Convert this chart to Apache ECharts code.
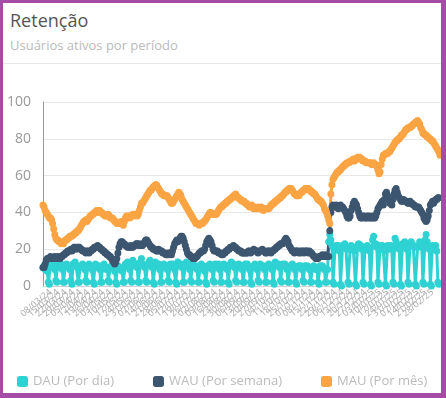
<!DOCTYPE html>
<html>
<head>
<meta charset="utf-8">
<script src="https://cdn.jsdelivr.net/npm/echarts@6/dist/echarts.min.js"></script>
<style>
  html, body { margin: 0; padding: 0; }
  body { width: 446px; height: 398px; background: #a64ca6; position: relative; overflow: hidden; font-family: 'Open Sans', sans-serif; }
  .card { position: absolute; left: 3px; top: 3px; width: 438px; height: 390px; background: #fff; overflow: hidden; }
  .card__title { position: absolute; left: 7px; top: 5px; font-size: 18px; color: #555; }
  .card__subtitle { position: absolute; left: 7px; top: 33px; font-size: 13px; color: #bbb; }
  .card__sep { position: absolute; left: 0; right: 0; top: 60px; height: 1px; background: #e8e8e8; }
  #chart { position: absolute; left: -3px; top: -3px; width: 446px; height: 398px; }
</style>
</head>
<body>
<div class="card">
  <div class="card__title">Retenção</div>
  <div class="card__subtitle">Usuários ativos por período</div>
  <div class="card__sep"></div>
  <div id="chart"></div>
</div>
<script>
// séries diárias
const dau = [
  10,11,9,10,8,2,1, 11,12,10,11,9,3,2, 12,11,10,12,9,2,2, 11,12,11,10,9,3,1,
  12,11,13,11,10,2,2, 11,10,12,11,9,3,2, 10,12,11,10,9,2,1, 12,11,10,11,9,2,2,
  11,12,10,9,10,3,2, 10,11,12,10,8,2,1, 11,10,9,10,8,2,2, 12,11,13,11,9,3,2,
  14,12,11,12,10,2,2, 13,15,12,11,10,3,2, 12,13,14,12,10,2,1, 13,12,11,12,9,2,2,
  11,12,10,11,9,3,2, 12,11,12,10,9,2,1, 13,12,11,12,10,2,2, 11,13,12,11,9,3,2,
  12,11,10,11,9,2,2, 10,12,11,10,8,2,1, 11,10,12,11,9,3,2, 12,11,10,12,9,2,2,
  11,12,11,10,9,2,1, 12,13,11,12,10,3,2, 11,12,10,11,9,2,2, 12,11,12,10,9,2,1,
  10,11,12,11,9,3,2, 12,11,10,11,9,2,2, 11,12,11,10,9,2,1, 13,12,11,12,10,3,2,
  12,11,12,11,9,2,2, 11,10,12,11,9,2,1, 10,11,10,11,9,3,2, 11,10,11,10,9,2,2,
  10,11,10,9,9,2,1, 11,10,11,10,9,2,2, 9,24,28,25,22,2,1, 21,22,20,22,19,1,0,
  22,21,23,21,20,2,1, 20,22,21,20,19,1,0, 22,23,21,22,20,2,1, 21,20,22,21,19,1,0,
  25,27,22,23,21,2,1, 22,21,22,20,19,1,0, 22,20,21,22,20,2,1, 26,24,22,21,20,1,0,
  23,22,24,22,20,2,1, 22,24,23,22,21,1,0, 21,22,24,23,21,2,1, 25,28,24,22,20,1,0,
  22,21,20,22,19,2,1
];

const wau = [
  10,10,12,14,15,15,15,16,15,15, 15,16,15,15,16,15,15,16,16,17,
  17,18,18,19,19,19,20,19,20,21, 21,20,21,21,21,20,20,19,19,19,
  18,19,19,18,19,19,20,20,21,21, 21,22,21,21,20,20,19,19,18,18,
  17,17,16,16,15,14,13,12,13,15, 18,21,23,24,24,23,23,22,22,21,
  21,21,22,21,21,22,22,23,23,22, 23,22,22,22,23,24,25,25,24,23,
  22,21,21,20,20,20,19,19,20,19, 19,19,18,18,18,17,17,18,17,18,
  17,19,21,23,24,25,24,25,26,27, 27,26,24,22,20,18,17,17,16,16,
  15,15,15,16,16,17,18,18,19,19, 19,20,22,24,25,26,25,24,22,20,
  19,19,19,19,18,18,18,17,17,18, 18,19,19,20,20,21,21,21,22,21,
  21,20,20,19,19,19,18,18,18,18, 18,18,19,19,18,19,19,20,19,19,
  19,18,19,19,19,20,19,19,18,18, 19,19,19,18,19,19,20,20,21,21,
  22,22,23,23,23,24,25,26,25,24, 22,21,20,19,19,18,19,19,19,18,
  19,18,19,19,18,19,19,19,18,19, 18,18,17,16,16,15,15,15,16,16,
  16,17,16,16,17,16,16,16,30,40, 43,44,43,43,44,43,42,43,44,43,
  43,42,41,40,38,37,37,38,41,43, 45,46,45,44,42,40,38,37,37,38,
  38,37,37,38,37,38,37,37,38,37, 37,38,40,42,43,44,45,46,44,47,
  50,51,49,47,45,45,44,47,50,52, 53,51,49,48,47,46,46,47,46,46,
  46,45,45,46,45,45,44,44,43,43, 43,43,42,41,40,39,37,36,35,36,
  38,41,44,45,46,45,46,47,47,48, 48
];

const mau = [
  44,43,41,40,39,38,37,37,36,34, 31,28,26,25,25,24,24,23,24,23,
  24,25,25,26,26,27,27,27,28,28, 29,29,30,30,31,32,33,34,35,35,
  36,35,36,37,38,38,39,39,40,40, 41,40,41,41,40,40,39,39,38,38,
  38,39,38,37,37,37,36,35,35,34, 34,34,34,35,34,33,35,37,38,37,
  38,37,38,38,39,38,39,39,38,39, 41,43,45,45,46,47,48,49,50,51,
  52,52,53,54,54,55,55,54,53,52, 51,50,50,49,49,49,49,48,47,46,
  45,45,46,47,48,49,50,51,50,49, 47,46,45,44,43,42,41,40,39,38,
  37,36,35,34,34,34,33,34,34,34, 35,35,36,37,38,39,40,40,39,39,
  39,39,39,40,41,42,43,43,44,44, 45,45,46,46,47,47,48,48,49,49,
  50,49,48,48,47,47,46,46,46,45, 45,44,44,43,43,44,43,42,43,42,
  42,43,42,42,43,42,41,42,42,42, 42,42,43,44,44,45,45,46,46,47,
  47,48,48,49,49,50,51,51,52,52, 53,53,53,52,51,50,50,49,49,49,
  50,51,51,52,52,53,53,53,53,52, 52,51,51,50,50,49,48,47,47,46,
  46,45,44,42,41,40,38,36,34,50, 55,58,59,60,61,62,62,63,63,64,
  65,65,66,66,67,67,67,68,68,68, 69,68,69,69,70,69,70,69,69,68,
  68,68,67,67,67,67,67,66,66,67, 66,66,65,63,61,62,66,69,71,71,
  72,72,72,73,73,74,75,76,77,78, 79,79,80,80,81,82,82,83,84,85,
  85,86,86,86,87,87,88,88,89,89, 90,89,88,86,85,83,83,82,82,81,
  81,80,80,79,79,78,77,76,75,74, 73,71
];

const seriesNames = ['DAU (Por dia)', 'WAU (Por semana)', 'MAU (Por mês)'];
const seriesColors = ['#2fd2d2', '#3d5670', '#fba443'];
const yTicks = [0, 20, 40, 60, 80, 100];

// um dia por ponto a partir desta data
const startDate = new Date(2024, 2, 1);
const categories = [];
for (let i = 0; i < mau.length; i++) {
  const d = new Date(startDate.getTime());
  d.setDate(d.getDate() + i);
  const dd = String(d.getDate()).padStart(2, '0');
  const mm = String(d.getMonth() + 1).padStart(2, '0');
  const yy = String(d.getFullYear()).slice(2);
  categories.push(`${dd}/${mm}/${yy}`);
}

const chart = echarts.init(document.getElementById('chart'));

function makeSeries(name, data, color) {
  return {
    name: name,
    type: 'line',
    data: data,
    symbol: 'circle',
    symbolSize: 7,
    showAllSymbol: true,
    lineStyle: { color: color, width: 3 },
    itemStyle: { color: color },
    emphasis: { disabled: true }
  };
}

chart.setOption({
  animation: false,
  textStyle: { fontFamily: 'Open Sans' },
  grid: { left: 43, right: 6, top: 102, bottom: 112 },
  legend: {
    left: 12,
    top: 370,
    itemGap: 39,
    itemWidth: 11,
    itemHeight: 11,
    icon: 'roundRect',
    textStyle: { color: '#bbb', fontSize: 13 },
    data: seriesNames
  },
  xAxis: {
    type: 'category',
    boundaryGap: false,
    data: categories,
    axisLine: { lineStyle: { color: '#d0d0d0' } },
    axisTick: { show: false },
    axisLabel: {
      interval: 6,
      rotate: 40,
      fontSize: 9,
      color: '#aaa',
      margin: 5
    }
  },
  yAxis: {
    type: 'value',
    min: yTicks[0],
    max: yTicks[yTicks.length - 1],
    interval: 20,
    axisLine: { show: true, lineStyle: { color: '#999' } },
    axisTick: { show: false },
    axisLabel: { color: '#999', fontSize: 14, margin: 12 },
    splitLine: { lineStyle: { color: '#e8e8e8', width: 1 } }
  },
  series: [
    makeSeries(seriesNames[0], dau, seriesColors[0]),
    makeSeries(seriesNames[1], wau, seriesColors[1]),
    makeSeries(seriesNames[2], mau, seriesColors[2])
  ]
});
</script>
</body>
</html>
